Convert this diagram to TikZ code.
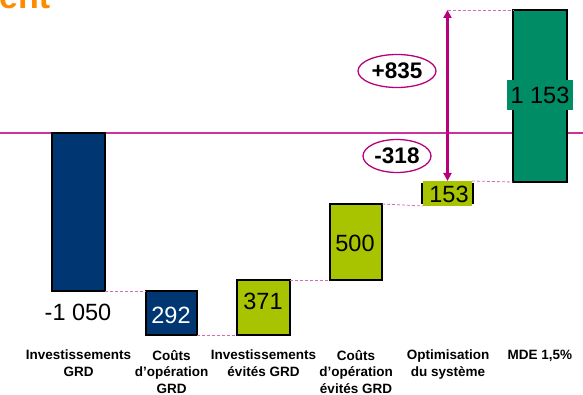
\documentclass[tikz,border=0pt]{standalone}
\usepackage{fontspec}
\setmainfont{Liberation Sans}
\usetikzlibrary{arrows.meta,shapes.geometric}
\definecolor{dblue}{HTML}{003671}
\definecolor{ygreen}{HTML}{A8C400}
\definecolor{mgreen}{HTML}{008C64}
\definecolor{mag}{HTML}{B8007A}
\definecolor{hline}{HTML}{CC3399}
\definecolor{dashcol}{HTML}{D070B0}
\definecolor{orng}{HTML}{FF8C00}
\begin{document}
\begin{tikzpicture}[x=1pt,y=-1pt,
  bar/.style={draw=black,line width=1.2pt,inner sep=0pt,outer sep=0pt},
  num/.style={inner sep=0pt,font=\fontsize{23.5}{23.5}\selectfont},
  lab/.style={anchor=north,align=center,inner sep=0pt,font=\fontsize{13.5}{16.5}\selectfont\bfseries},
  ell/.style={ellipse,draw=mag,line width=1.3pt,inner sep=0pt,minimum width=78pt,minimum height=33pt,font=\fontsize{22.5}{22.5}\selectfont\bfseries},
  conn/.style={draw=dashcol,line width=0.8pt,dash pattern=on 3pt off 2pt}]
\useasboundingbox (0,0) rectangle (583,395);
% title fragment
\node[anchor=base west,inner sep=0pt,text=orng,font=\fontsize{34}{34}\selectfont\bfseries] (title) at (-1,9) {ent};
% horizontal reference line
\coordinate (hl) at (0,133);
\coordinate (hr) at (583,133);
\draw[hline,line width=1.8pt] (hl) -- (hr);
% bars
\node[bar,fill=dblue,minimum width=53pt,minimum height=158pt] (b1) at (78.5,212) {};
\node[bar,fill=dblue,minimum width=51pt,minimum height=44pt] (b2) at (171.5,313) {};
\node[bar,fill=ygreen,minimum width=53pt,minimum height=55pt] (b3) at (263.5,307.5) {};
\node[bar,fill=ygreen,minimum width=52pt,minimum height=76pt] (b4) at (356,242) {};
\node[inner sep=0pt,outer sep=0pt,fill=ygreen,minimum width=49pt,minimum height=25pt] (b5) at (447.5,193.5) {};
\draw[black,line width=1.2pt] ([xshift=-1pt,yshift=-2pt]b5.north west) -- ([xshift=-1pt,yshift=2pt]b5.south west);
\draw[black,line width=1.2pt] ([xshift=1pt,yshift=-2pt]b5.north east) -- ([xshift=1pt,yshift=2pt]b5.south east);
\node[bar,fill=mgreen,minimum width=54pt,minimum height=172pt] (b6) at (540,96) {};
% connectors
\draw[conn] (b1.south east) -- (b2.north west);
\draw[conn] (b2.south east) -- (b3.south west);
\draw[conn] (b3.north east) -- (b4.south west);
\draw[conn] (b4.north east) -- (b5.south west);
\draw[conn] (b5.north east) -- (b6.south west);
\coordinate (atop) at (447.5,10);
\draw[conn] (atop) -- (b6.north west);
\draw[mag,line width=2.2pt,{Triangle[length=8pt,width=8pt]}-{Triangle[length=8pt,width=8pt]}] (atop) -- (b5.north);
% values
\node[num] (v1) at (78,312) {-1 050};
\node[num,text=white] (v2) at (171,315) {292};
\node[num] (v3) at (263,301) {371};
\node[num] (v4) at (355,243) {500};
\node[num] (v5) at (449,194) {153};
\node[num,fill=mgreen,minimum width=66pt,minimum height=30pt] (v6) at (540,95) {1 153};
% ellipses
\node[ell] (e1) at (397,71) {+835};
\node[ell,minimum width=68pt] (e2) at (397,156) {-318};
% category labels
\node[lab] (l1) at (78.5,350) {Investissements\\GRD};
\node[lab] (l2) at (171.5,350) {Coûts\\d’opération\\GRD};
\node[lab] (l3) at (263.5,350) {Investissements\\évités GRD};
\node[lab] (l4) at (356,350) {Coûts\\d’opération\\évités GRD};
\node[lab] (l5) at (448,350) {Optimisation\\du système};
\node[lab] (l6) at (540,350) {MDE 1,5\%};
\end{tikzpicture}
\end{document}
